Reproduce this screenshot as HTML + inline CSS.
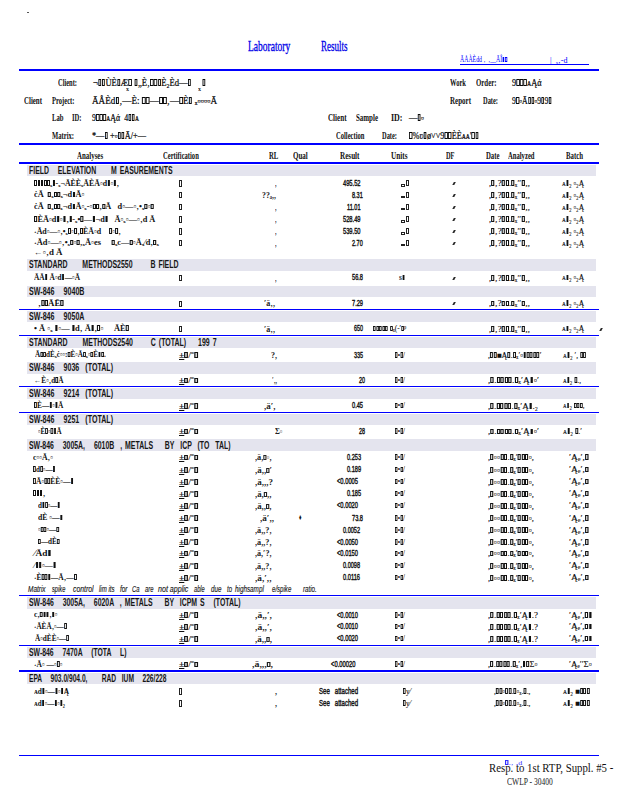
<!DOCTYPE html>
<html lang="en"><head><meta charset="utf-8"><title>Laboratory Results</title>
<style>
html,body{margin:0;padding:0;background:#fff}
body{width:618px;height:800px;position:relative;overflow:hidden;font-family:"Liberation Serif",serif;color:#111}
.r{position:absolute}
.o{box-sizing:border-box;border:.8px solid #222}
.k{width:1.6px;height:3.2px;background:#2a2a2a;transform:skewX(-28deg)}
.t{position:absolute;white-space:pre;line-height:12px;height:12px;transform-origin:0 0;display:block}
.t i{display:inline-block;box-sizing:border-box;width:.36em;height:.7em;border:.075em solid currentColor;border-left-width:.09em;border-right-width:.09em;margin:0 .04em;vertical-align:baseline}
.sm i{width:.34em;height:.68em;border-width:.06em;border-left-width:.065em;border-right-width:.065em}
.an i{width:.33em;height:.72em;border-width:.065em;border-left-width:.07em;border-right-width:.07em}
.rl i{width:.3em;height:.62em}
.t b{display:inline-block;box-sizing:border-box;width:.36em;height:.3em;border:.07em solid currentColor;margin:0 .03em;vertical-align:-.12em}
.t u{font-weight:700;text-decoration:underline;text-underline-offset:.12em}
.title{font:400 14.4px/16px "Liberation Serif",serif;color:#0000e8;-webkit-text-stroke:.3px #0000e8;line-height:16px;height:16px}
.lnk{font:400 7.5px/12px "Liberation Serif",serif;color:#0000ff}
.lnk2{font:400 7px/12px "Liberation Serif",serif;color:#3030ff}
.hb{font:700 9.5px/12px "Liberation Serif",serif;color:#111}
.hv{font:400 9.5px/12px "Liberation Serif",serif;color:#0a0a0a;-webkit-text-stroke:.22px #0a0a0a}
.band{font:700 10px/12px "Liberation Sans",sans-serif;color:#161616;word-spacing:.15em}
.band2{font:400 10px/12px "Liberation Sans",sans-serif;color:#222;word-spacing:.15em;-webkit-text-stroke:.15px #222}
.an{font:700 7.9px/12px "Liberation Serif",serif;color:#111}
.sm{font:400 8.3px/12px "Liberation Serif",serif;color:#111;-webkit-text-stroke:.1px #111}
.ct{font:400 7.6px/12px "Liberation Serif",serif;color:#111;-webkit-text-stroke:.1px #111}
.ct i{width:.32em;height:.7em;border-width:.065em}
.rl{font:700 8px/12px "Liberation Serif",serif;color:#222}
.num{font:400 8.5px/12px "Liberation Sans",sans-serif;color:#111;-webkit-text-stroke:.4px #111}
.tick{font:italic 700 7.5px/12px "Liberation Serif",serif;color:#111}
.tiny{font:700 5.5px/12px "Liberation Serif",serif;color:#222}
.note{font:italic 400 8.2px/12px "Liberation Sans",sans-serif;color:#1a1a1a;-webkit-text-stroke:.15px #1a1a1a}
.ft{font:400 12px/14px "Liberation Serif",serif;color:#111;line-height:14px;height:14px}
.ft2{font:400 9.5px/12px "Liberation Serif",serif;color:#222}
</style></head><body>
<div class="r" style="left:19px;top:69px;width:580px;height:2px;background:#0000ff"></div>
<div class="r" style="left:19px;top:143px;width:580px;height:2px;background:#0000ff"></div>
<div class="r" style="left:19px;top:162px;width:580px;height:2px;background:#0000ff"></div>
<div class="r" style="left:19px;top:754.5px;width:580px;height:1.6px;background:#0000ff"></div>
<div class="r" style="left:27px;top:12px;width:2.2px;height:1.2px;background:#555"></div>
<div class="r" style="left:460px;top:63.6px;width:129px;height:0.9px;background:#0000ff"></div>
<div class="r" style="left:27px;top:164.5px;width:569px;height:11.5px;background:#e4e4ee"></div>
<div class="r" style="left:27px;top:259px;width:569px;height:11.5px;background:#e4e4ee"></div>
<div class="r" style="left:27px;top:285.5px;width:569px;height:11px;background:#e4e4ee"></div>
<div class="r" style="left:19px;top:308.9px;width:580px;height:1.25px;background:#0000ff"></div>
<div class="r" style="left:27px;top:311px;width:569px;height:11px;background:#e4e4ee"></div>
<div class="r" style="left:19px;top:334.85px;width:580px;height:1.25px;background:#0000ff"></div>
<div class="r" style="left:27px;top:337px;width:569px;height:11px;background:#e4e4ee"></div>
<div class="r" style="left:27px;top:362px;width:569px;height:11.7px;background:#e4e4ee"></div>
<div class="r" style="left:19px;top:385.85px;width:580px;height:1.25px;background:#0000ff"></div>
<div class="r" style="left:27px;top:387.7px;width:569px;height:11px;background:#e4e4ee"></div>
<div class="r" style="left:19px;top:411.85px;width:580px;height:1.25px;background:#0000ff"></div>
<div class="r" style="left:27px;top:414px;width:569px;height:11px;background:#e4e4ee"></div>
<div class="r" style="left:27px;top:439.2px;width:569px;height:11.5px;background:#e4e4ee"></div>
<div class="r" style="left:19px;top:594.85px;width:580px;height:1.25px;background:#0000ff"></div>
<div class="r" style="left:27px;top:597px;width:569px;height:11.5px;background:#e4e4ee"></div>
<div class="r" style="left:19px;top:644.85px;width:580px;height:1.25px;background:#0000ff"></div>
<div class="r" style="left:27px;top:646.6px;width:569px;height:11px;background:#e4e4ee"></div>
<div class="r" style="left:19px;top:670.35px;width:580px;height:1.25px;background:#0000ff"></div>
<div class="r" style="left:27px;top:672.6px;width:569px;height:11.2px;background:#e4e4ee"></div>
<div class="r o" style="left:179px;top:180.4px;width:3px;height:6.2px;border-width:0.8px"></div>
<div class="r o" style="left:400.8px;top:184px;width:4.2px;height:2.6px;border-width:0.7px"></div>
<div class="r o" style="left:405.8px;top:179.9px;width:2.9px;height:6.2px;border-width:0.8px"></div>
<div class="r o" style="left:179px;top:192px;width:3px;height:6.2px;border-width:0.8px"></div>
<div class="r o" style="left:400.8px;top:195.6px;width:4.2px;height:2.6px;border-width:0.7px"></div>
<div class="r o" style="left:405.8px;top:191.5px;width:2.9px;height:6.2px;border-width:0.8px"></div>
<div class="r o" style="left:179px;top:204.2px;width:3px;height:6.2px;border-width:0.8px"></div>
<div class="r o" style="left:400.8px;top:207.8px;width:4.2px;height:2.6px;border-width:0.7px"></div>
<div class="r o" style="left:405.8px;top:203.7px;width:2.9px;height:6.2px;border-width:0.8px"></div>
<div class="r o" style="left:179px;top:216.4px;width:3px;height:6.2px;border-width:0.8px"></div>
<div class="r o" style="left:400.8px;top:220px;width:4.2px;height:2.6px;border-width:0.7px"></div>
<div class="r o" style="left:405.8px;top:215.9px;width:2.9px;height:6.2px;border-width:0.8px"></div>
<div class="r o" style="left:179px;top:228.4px;width:3px;height:6.2px;border-width:0.8px"></div>
<div class="r o" style="left:400.8px;top:232px;width:4.2px;height:2.6px;border-width:0.7px"></div>
<div class="r o" style="left:405.8px;top:227.9px;width:2.9px;height:6.2px;border-width:0.8px"></div>
<div class="r o" style="left:179px;top:240.2px;width:3px;height:6.2px;border-width:0.8px"></div>
<div class="r o" style="left:400.8px;top:243.8px;width:4.2px;height:2.6px;border-width:0.7px"></div>
<div class="r o" style="left:405.8px;top:239.7px;width:2.9px;height:6.2px;border-width:0.8px"></div>
<div class="r o" style="left:179px;top:274.9px;width:3px;height:6.2px;border-width:0.8px"></div>
<div class="r o" style="left:179px;top:300.6px;width:3px;height:6.2px;border-width:0.8px"></div>
<div class="r o" style="left:179px;top:325.9px;width:3px;height:6.2px;border-width:0.8px"></div>
<div class="r o" style="left:179px;top:688.4px;width:3px;height:6.2px;border-width:0.8px"></div>
<div class="r o" style="left:179px;top:700.4px;width:3px;height:6.2px;border-width:0.8px"></div>
<div class="r k" style="left:452.9px;top:182px"></div>
<div class="r k" style="left:452.9px;top:193.6px"></div>
<div class="r k" style="left:452.9px;top:205.8px"></div>
<div class="r k" style="left:452.9px;top:218px"></div>
<div class="r k" style="left:452.9px;top:230px"></div>
<div class="r k" style="left:452.9px;top:241.8px"></div>
<div class="r k" style="left:452.9px;top:276.5px"></div>
<div class="r k" style="left:452.9px;top:302.2px"></div>
<div class="r k" style="left:600px;top:328px"></div>
<div class="t title" style="left:247.8px;top:38.2px;transform:scaleX(0.6616)">Laboratory</div>
<div class="t title" style="left:321.2px;top:38.2px;transform:scaleX(0.6275)">Results</div>
<div class="t lnk" style="left:460px;top:54px;transform:scaleX(0.7751)">ĀÅÀÈdd ‚  ‚__ĀÎ<i></i><i></i></div>
<div class="t lnk" style="left:549.5px;top:54.5px;transform:scaleX(1.0821)">|  ₓ‚-d</div>
<div class="t hb" style="left:57.5px;top:76.5px;transform:scaleX(0.6793)">Client:</div>
<div class="t hb" style="left:23.5px;top:95px;transform:scaleX(0.7254)">Client</div>
<div class="t hb" style="left:52px;top:95px;transform:scaleX(0.6916)">Project:</div>
<div class="t hb" style="left:52px;top:112px;transform:scaleX(0.7023)">Lab</div>
<div class="t hb" style="left:72px;top:112px;transform:scaleX(0.6917)">ID:</div>
<div class="t hb" style="left:52px;top:129.5px;transform:scaleX(0.6950)">Matrix:</div>
<div class="t hv" style="left:92.5px;top:76.5px;transform:scaleX(0.9052)">¬<i></i><i></i>ÙÈ<i></i>Æ<i></i> <i></i>„È‚<i></i><i></i><i></i>È₂Èd—<i></i>     <i></i></div>
<div class="t hv" style="left:92px;top:95px;transform:scaleX(0.9592)">ĀÅÈd<i></i>‚—È: <i></i><i></i>—<i></i><i></i>‚—<i></i>È<i></i> ₓ▫▫▫▫Ā</div>
<div class="t hv" style="left:92px;top:111.5px;transform:scaleX(0.8328)">9<i></i><i></i><i></i>ᴀĄά  4<i></i><i></i>ᴀ</div>
<div class="t hv" style="left:92px;top:129.5px;transform:scaleX(0.8683)">*—<i></i> +▫<i></i><i></i>Ā/+—</div>
<div class="t hb" style="left:449.5px;top:76.5px;transform:scaleX(0.6886)">Work</div>
<div class="t hb" style="left:476px;top:76.5px;transform:scaleX(0.7193)">Order:</div>
<div class="t hb" style="left:449.5px;top:95px;transform:scaleX(0.7368)">Report</div>
<div class="t hb" style="left:483px;top:95px;transform:scaleX(0.6770)">Date:</div>
<div class="t hv" style="left:512px;top:76.5px;transform:scaleX(0.8717)">9<i></i><i></i><i></i>ᴀĄά</div>
<div class="t hv" style="left:512px;top:95px;transform:scaleX(0.8184)">9<i></i>▫Ā<i></i><i></i>▫9<i></i>9<i></i></div>
<div class="t hb" style="left:328px;top:112px;transform:scaleX(0.7456)">Client</div>
<div class="t hb" style="left:356px;top:112px;transform:scaleX(0.7310)">Sample</div>
<div class="t hb" style="left:390.5px;top:112px;transform:scaleX(0.8373)">ID:</div>
<div class="t hb" style="left:335.5px;top:129.5px;transform:scaleX(0.6922)">Collection</div>
<div class="t hb" style="left:381.5px;top:129.5px;transform:scaleX(0.6770)">Date:</div>
<div class="t hv" style="left:409px;top:112px;transform:scaleX(0.8807)">—<i></i>▫</div>
<div class="t hv" style="left:409px;top:129.5px;transform:scaleX(0.8661)"><i></i>%ʋ<i></i>ø˅˅9<i></i><i></i>ÈÈᴀᴀ'<i></i><i></i></div>
<div class="t tiny" style="left:126.3px;top:82.9px;transform:scaleX(1.0909)">x</div>
<div class="t tiny" style="left:197.5px;top:82.9px;transform:scaleX(1.0909)">x</div>
<div class="t hb" style="left:76.8px;top:149.5px;transform:scaleX(0.7269)">Analyses</div>
<div class="t hb" style="left:163px;top:149.5px;transform:scaleX(0.6924)">Certification</div>
<div class="t hb" style="left:269px;top:149.5px;transform:scaleX(0.7044)">RL</div>
<div class="t hb" style="left:292.6px;top:149.5px;transform:scaleX(0.7377)">Qual</div>
<div class="t hb" style="left:339.5px;top:149.5px;transform:scaleX(0.7536)">Result</div>
<div class="t hb" style="left:390.5px;top:149.5px;transform:scaleX(0.7619)">Units</div>
<div class="t hb" style="left:446px;top:149.5px;transform:scaleX(0.6708)">DF</div>
<div class="t hb" style="left:486px;top:149.5px;transform:scaleX(0.7105)">Date</div>
<div class="t hb" style="left:508px;top:149.5px;transform:scaleX(0.6974)">Analyzed</div>
<div class="t hb" style="left:566px;top:149.5px;transform:scaleX(0.7158)">Batch</div>
<div class="t band" style="left:28.5px;top:164.85px;transform:scaleX(0.6894)">FIELD   ELEVATION     M EASUREMENTS</div>
<div class="t an" style="left:34px;top:177.6px;transform:scaleX(0.9985)"><i></i><i></i><i></i><i></i><i></i>ₓ<i></i>-ₓ¬ĀÈÈₓĀÈĀ▫d<i></i>▫<i></i>‚</div>
<div class="t rl" style="left:274.5px;top:178.1px;transform:scaleX(0.7500)">,</div>
<div class="t num" style="left:342.5px;top:176.9px;transform:scaleX(0.6731)">495.52</div>
<div class="t sm" style="left:489px;top:178.1px;transform:scaleX(1.0555)">,<i></i>‚?<i></i><i></i>.<i></i>ₓ′′<i></i>‚,</div>
<div class="t sm" style="left:562px;top:177.9px;transform:scaleX(0.9084)">ᴀ<i></i>₂ ▫₂Ą</div>
<div class="t an" style="left:34px;top:189.2px;transform:scaleX(1.0531)">ċĀ  <i></i>ₓ<i></i><i></i>ₓ¬d<i></i>Ā▫</div>
<div class="t rl" style="left:262px;top:189.7px;transform:scaleX(0.9760)">??ₐ,,</div>
<div class="t num" style="left:351.8px;top:188.5px;transform:scaleX(0.6466)">8.31</div>
<div class="t sm" style="left:489px;top:189.7px;transform:scaleX(1.0555)">,<i></i>‚?<i></i><i></i>.<i></i>ₓ′′<i></i>‚,</div>
<div class="t sm" style="left:562px;top:189.5px;transform:scaleX(0.9084)">ᴀ<i></i>₂ ▫₂Ą</div>
<div class="t an" style="left:34px;top:201.4px;transform:scaleX(1.0503)">ċĀ  <i></i>ₓ<i></i><i></i>ₓ¬d<i></i>Ā▫ₓ-▫<i></i><i></i>‚<i></i>Ā   d▫—▫‚•ₓ<i></i>▫<i></i></div>
<div class="t rl" style="left:274.5px;top:201.9px;transform:scaleX(0.7500)">,</div>
<div class="t num" style="left:347px;top:200.7px;transform:scaleX(0.6540)">11.01</div>
<div class="t sm" style="left:489px;top:201.9px;transform:scaleX(1.0555)">,<i></i>‚?<i></i><i></i>.<i></i>ₓ′′<i></i>‚,</div>
<div class="t sm" style="left:562px;top:201.7px;transform:scaleX(0.9084)">ᴀ<i></i>₂ ▫₂Ą</div>
<div class="t an" style="left:34px;top:213.6px;transform:scaleX(1.0512)"><i></i>ÈĀ▫d<i></i>▫<i></i>‚<i></i>-ₓ•<i></i>—<i></i>¬d<i></i>   Ā▫ₓ▫—▫‚d Ā</div>
<div class="t rl" style="left:274.5px;top:214.1px;transform:scaleX(0.7500)">,</div>
<div class="t num" style="left:342.5px;top:212.9px;transform:scaleX(0.6731)">528.49</div>
<div class="t sm" style="left:489px;top:214.1px;transform:scaleX(1.0555)">,<i></i>‚?<i></i><i></i>.<i></i>ₓ′′<i></i>‚,</div>
<div class="t sm" style="left:562px;top:213.9px;transform:scaleX(0.9084)">ᴀ<i></i>₂ ▫₂Ą</div>
<div class="t an" style="left:34px;top:225.6px;transform:scaleX(1.0011)">˖Ād▫—▫‚•ₓ<i></i>▫<i></i>‚<i></i>ÈĀ▫d    <i></i>▫<i></i>‚</div>
<div class="t rl" style="left:274.5px;top:226.1px;transform:scaleX(0.7500)">,</div>
<div class="t num" style="left:342.5px;top:224.9px;transform:scaleX(0.6731)">539.50</div>
<div class="t sm" style="left:489px;top:226.1px;transform:scaleX(1.0555)">,<i></i>‚?<i></i><i></i>.<i></i>ₓ′′<i></i>‚,</div>
<div class="t sm" style="left:562px;top:225.9px;transform:scaleX(0.9084)">ᴀ<i></i>₂ ▫₂Ą</div>
<div class="t an" style="left:34px;top:237.4px;transform:scaleX(1.0628)">˖Ād▫—▫‚•ₓ<i></i>▫<i></i>‚ₓĀ▫es     <i></i>ₓc—<i></i>▫Āₓ⁄d‚<i></i>ₓ</div>
<div class="t rl" style="left:274.5px;top:237.9px;transform:scaleX(0.7500)">,</div>
<div class="t num" style="left:351.8px;top:236.7px;transform:scaleX(0.6466)">2.70</div>
<div class="t sm" style="left:489px;top:237.9px;transform:scaleX(1.0555)">,<i></i>‚?<i></i><i></i>.<i></i>ₓ′′<i></i>‚,</div>
<div class="t sm" style="left:562px;top:237.7px;transform:scaleX(0.9084)">ᴀ<i></i>₂ ▫₂Ą</div>
<div class="t an" style="left:34px;top:247.1px;transform:scaleX(1.1232)">←▫‚d Ā</div>
<div class="t band" style="left:28.5px;top:259.35px;transform:scaleX(0.6951)">STANDARD     METHODS2550      B FIELD</div>
<div class="t an" style="left:34px;top:272.1px;transform:scaleX(0.9370)">ĀÄ<i></i> Ā▫d<i></i>—▫Ā</div>
<div class="t rl" style="left:274.5px;top:272.6px;transform:scaleX(0.7500)">,</div>
<div class="t num" style="left:352px;top:271.4px;transform:scaleX(0.6648)">56.8</div>
<div class="t sm" style="left:399px;top:272.4px;transform:scaleX(0.9098)">s<i></i></div>
<div class="t sm" style="left:489px;top:272.6px;transform:scaleX(1.0555)">,<i></i>‚?<i></i><i></i>.<i></i>ₓ′′<i></i>‚,</div>
<div class="t sm" style="left:562px;top:272.4px;transform:scaleX(0.9084)">ᴀ<i></i>₂ ▫₂Ą</div>
<div class="t band" style="left:28.5px;top:285.6px;transform:scaleX(0.7094)">SW-846   9040B</div>
<div class="t an" style="left:38px;top:297.8px;transform:scaleX(1.1110)">‚<i></i><i></i>ĀĒ<i></i></div>
<div class="t rl" style="left:264px;top:298.3px;transform:scaleX(1.0072)">′ä‚,</div>
<div class="t num" style="left:352px;top:297.1px;transform:scaleX(0.6648)">7.29</div>
<div class="t sm" style="left:489px;top:298.3px;transform:scaleX(1.0555)">,<i></i>‚?<i></i><i></i>.<i></i>ₓ′′<i></i>‚,</div>
<div class="t sm" style="left:562px;top:298.1px;transform:scaleX(0.9084)">ᴀ<i></i>₂ ▫₂Ą</div>
<div class="t band" style="left:28.5px;top:311.1px;transform:scaleX(0.7094)">SW-846   9050A</div>
<div class="t an" style="left:34.3px;top:323.1px;transform:scaleX(1.0659)">• Ā ▫ₓ <i></i>▫— <i></i>d‚ Ā<i></i>‚<i></i>▫     ĀÈ<i></i></div>
<div class="t rl" style="left:264px;top:323.6px;transform:scaleX(1.0072)">′ä‚,</div>
<div class="t num" style="left:354px;top:322.4px;transform:scaleX(0.6344)">650</div>
<div class="t sm" style="left:372.5px;top:323.4px;transform:scaleX(0.8599)"><i></i><i></i><i></i><i></i><i></i> <i></i>ₓ(-′<i></i>ᵖ</div>
<div class="t sm" style="left:489px;top:323.6px;transform:scaleX(1.0555)">,<i></i>‚?<i></i><i></i>.<i></i>ₓ′′<i></i>‚,</div>
<div class="t sm" style="left:562px;top:323.4px;transform:scaleX(0.9084)">ᴀ<i></i>₂ ▫₂Ą</div>
<div class="t band" style="left:28.5px;top:337.1px;transform:scaleX(0.6974)">STANDARD     METHODS2540      C (TOTAL)    199 7</div>
<div class="t an" style="left:35px;top:349.3px;transform:scaleX(0.9082)">Ā<i></i><i></i>dÈₓċ▫▫:<i></i>È▫Ā<i></i>ₓ▫<i></i>È<i></i><i></i>.</div>
<div class="t ct" style="left:179px;top:349.8px;transform:scaleX(1.2718)"><u>±</u><i></i>/˭<i></i></div>
<div class="t rl" style="left:271px;top:349.8px;transform:scaleX(1.0000)">?,</div>
<div class="t num" style="left:354px;top:348.6px;transform:scaleX(0.6344)">335</div>
<div class="t sm" style="left:394.5px;top:349.6px;transform:scaleX(0.8032)"><i></i>•<i></i>/</div>
<div class="t sm" style="left:488px;top:349.8px;transform:scaleX(0.9659)">,<i></i><i></i>■Ą<i></i>.<i></i>ₓ′▫<i></i><i></i><i></i><i></i><i></i>′</div>
<div class="t sm" style="left:562.5px;top:349.6px;transform:scaleX(0.9132)">ᴀ<i></i>₂ ′, <i></i><i></i></div>
<div class="t band" style="left:28.5px;top:362.45px;transform:scaleX(0.7081)">SW-846   9036  (TOTAL)</div>
<div class="t an" style="left:34.3px;top:374.6px;transform:scaleX(0.9282)">←È▫‚d<i></i>Ā</div>
<div class="t ct" style="left:179px;top:375.1px;transform:scaleX(1.2718)"><u>±</u><i></i>/˭<i></i></div>
<div class="t rl" style="left:271.5px;top:375.1px;transform:scaleX(0.7223)">′‚,</div>
<div class="t num" style="left:359px;top:373.9px;transform:scaleX(0.6337)">20</div>
<div class="t sm" style="left:394.5px;top:374.9px;transform:scaleX(0.8032)"><i></i>•<i></i>/</div>
<div class="t sm" style="left:488px;top:375.1px;transform:scaleX(1.1209)">,<i></i>.<i></i><i></i><i></i><i></i>.<i></i>ₓ′Ą<i></i>▫′</div>
<div class="t sm" style="left:562.5px;top:374.9px;transform:scaleX(0.8896)">ᴀ<i></i>₂ <i></i>.,</div>
<div class="t band" style="left:28.5px;top:387.8px;transform:scaleX(0.7081)">SW-846   9214  (TOTAL)</div>
<div class="t an" style="left:33.5px;top:400.1px;transform:scaleX(0.9350)"><i></i>È—<i></i>▫<i></i>Ā</div>
<div class="t ct" style="left:179px;top:400.6px;transform:scaleX(1.2718)"><u>±</u><i></i>/˭<i></i></div>
<div class="t rl" style="left:263.5px;top:400.6px;transform:scaleX(1.1220)">,ä′,</div>
<div class="t num" style="left:352px;top:399.4px;transform:scaleX(0.6648)">0.45</div>
<div class="t sm" style="left:394.5px;top:400.4px;transform:scaleX(0.8032)"><i></i>•<i></i>/</div>
<div class="t sm" style="left:488px;top:400.6px;transform:scaleX(1.0940)">,<i></i>.<i></i><i></i><i></i><i></i>.<i></i>ₓ′Ą<i></i>.₂</div>
<div class="t sm" style="left:562.5px;top:400.4px;transform:scaleX(0.8568)">ᴀ<i></i>₂ <i></i><i></i><i></i>,</div>
<div class="t band" style="left:28.5px;top:414.1px;transform:scaleX(0.7081)">SW-846   9251  (TOTAL)</div>
<div class="t an" style="left:37.5px;top:425.8px;transform:scaleX(0.8958)">▫È<i></i>▫<i></i><i></i>Ā</div>
<div class="t ct" style="left:179px;top:426.3px;transform:scaleX(1.2718)"><u>±</u><i></i>/˭<i></i></div>
<div class="t rl" style="left:275px;top:426.3px;transform:scaleX(0.9284)">Σ▫</div>
<div class="t num" style="left:359px;top:425.1px;transform:scaleX(0.6337)">28</div>
<div class="t sm" style="left:394.5px;top:426.1px;transform:scaleX(0.8032)"><i></i>•<i></i>/</div>
<div class="t sm" style="left:488px;top:426.3px;transform:scaleX(1.1209)">,<i></i>.<i></i><i></i><i></i><i></i>.<i></i>ₓ′Ą<i></i>▫′</div>
<div class="t sm" style="left:562.5px;top:426.1px;transform:scaleX(0.9515)">ᴀ<i></i>₂ <i></i>.′</div>
<div class="t band" style="left:28.5px;top:439.55px;transform:scaleX(0.6916)">SW-846   3005A,   6010B  , METALS    BY  ICP  (TO  TAL)</div>
<div class="t an" style="left:33px;top:451.6px;transform:scaleX(0.9884)">c▫▫Ā‚▫</div>
<div class="t ct" style="left:179px;top:452.1px;transform:scaleX(1.2718)"><u>±</u><i></i>/˭<i></i></div>
<div class="t rl" style="left:255px;top:452.1px;transform:scaleX(1.0404)">,ä,<i></i>▫,</div>
<div class="t num" style="left:347px;top:450.9px;transform:scaleX(0.6579)">0.253</div>
<div class="t sm" style="left:394.5px;top:451.9px;transform:scaleX(0.8032)"><i></i>•<i></i>/</div>
<div class="t sm" style="left:488px;top:452.1px;transform:scaleX(1.0556)">,<i></i>▫▫<i></i><i></i>.<i></i>ₓ′<i></i><i></i><i></i>▫,</div>
<div class="t sm" style="left:568.5px;top:451.9px;transform:scaleX(1.1492)">′Ąₑ′,<i></i></div>
<div class="t an" style="left:33px;top:464.1px;transform:scaleX(0.9119)"><i></i>d<i></i>▫—<i></i></div>
<div class="t ct" style="left:179px;top:464.6px;transform:scaleX(1.2718)"><u>±</u><i></i>/˭<i></i></div>
<div class="t rl" style="left:255px;top:464.6px;transform:scaleX(1.1136)">,ä,,<i></i>′</div>
<div class="t num" style="left:347px;top:463.4px;transform:scaleX(0.6579)">0.189</div>
<div class="t sm" style="left:394.5px;top:464.4px;transform:scaleX(0.8032)"><i></i>•<i></i>/</div>
<div class="t sm" style="left:488px;top:464.6px;transform:scaleX(1.0556)">,<i></i>▫▫<i></i><i></i>.<i></i>ₓ′<i></i><i></i><i></i>▫,</div>
<div class="t sm" style="left:568.5px;top:464.4px;transform:scaleX(1.1492)">′Ąₑ′,<i></i></div>
<div class="t an" style="left:33px;top:476.1px;transform:scaleX(0.9531)"><i></i>Ā▫<i></i><i></i>ÈÈ▫—<i></i></div>
<div class="t ct" style="left:179px;top:476.6px;transform:scaleX(1.2718)"><u>±</u><i></i>/˭<i></i></div>
<div class="t rl" style="left:255px;top:476.6px;transform:scaleX(1.1250)">,ä,,,?</div>
<div class="t num" style="left:336.5px;top:475.4px;transform:scaleX(0.6781)">&lt;0.0005</div>
<div class="t sm" style="left:394.5px;top:476.4px;transform:scaleX(0.8032)"><i></i>•<i></i>/</div>
<div class="t sm" style="left:488px;top:476.6px;transform:scaleX(1.0556)">,<i></i>▫▫<i></i><i></i>.<i></i>ₓ′<i></i><i></i><i></i>▫,</div>
<div class="t sm" style="left:568.5px;top:476.4px;transform:scaleX(1.1492)">′Ąₑ′,<i></i></div>
<div class="t an" style="left:33px;top:488.1px;transform:scaleX(1.0013)"><i></i><i></i><i></i>‚</div>
<div class="t ct" style="left:179px;top:488.6px;transform:scaleX(1.2718)"><u>±</u><i></i>/˭<i></i></div>
<div class="t rl" style="left:255px;top:488.6px;transform:scaleX(1.0989)">,ä,<i></i>,,</div>
<div class="t num" style="left:347px;top:487.4px;transform:scaleX(0.6579)">0.185</div>
<div class="t sm" style="left:394.5px;top:488.4px;transform:scaleX(0.8032)"><i></i>•<i></i>/</div>
<div class="t sm" style="left:488px;top:488.6px;transform:scaleX(1.0556)">,<i></i>▫▫<i></i><i></i>.<i></i>ₓ′<i></i><i></i><i></i>▫,</div>
<div class="t sm" style="left:568.5px;top:488.4px;transform:scaleX(1.1492)">′Ąₑ′,<i></i></div>
<div class="t an" style="left:38px;top:500.1px;transform:scaleX(0.9003)">d<i></i><i></i>▫—<i></i></div>
<div class="t ct" style="left:179px;top:500.6px;transform:scaleX(1.2718)"><u>±</u><i></i>/˭<i></i></div>
<div class="t rl" style="left:255px;top:500.6px;transform:scaleX(1.0989)">,ä,,<i></i>,</div>
<div class="t num" style="left:336.5px;top:499.4px;transform:scaleX(0.6781)">&lt;0.0020</div>
<div class="t sm" style="left:394.5px;top:500.4px;transform:scaleX(0.8032)"><i></i>•<i></i>/</div>
<div class="t sm" style="left:488px;top:500.6px;transform:scaleX(1.0556)">,<i></i>▫▫<i></i><i></i>.<i></i>ₓ′<i></i><i></i><i></i>▫,</div>
<div class="t sm" style="left:568.5px;top:500.4px;transform:scaleX(1.1492)">′Ąₑ′,<i></i></div>
<div class="t an" style="left:38px;top:512.3px;transform:scaleX(0.9715)">dÈ ▫—<i></i></div>
<div class="t ct" style="left:179px;top:512.8px;transform:scaleX(1.2718)"><u>±</u><i></i>/˭<i></i></div>
<div class="t rl" style="left:260px;top:512.8px;transform:scaleX(1.1429)">,ä′,,</div>
<div class="t sm" style="left:299.3px;top:512.3px;transform:scaleX(0.5904)">♦</div>
<div class="t num" style="left:352px;top:511.6px;transform:scaleX(0.6648)">73.8</div>
<div class="t sm" style="left:394.5px;top:512.6px;transform:scaleX(0.8032)"><i></i>•<i></i>/</div>
<div class="t sm" style="left:488px;top:512.8px;transform:scaleX(1.0556)">,<i></i>▫▫<i></i><i></i>.<i></i>ₓ′<i></i><i></i><i></i>▫,</div>
<div class="t sm" style="left:568.5px;top:512.6px;transform:scaleX(1.1492)">′Ąₑ′,<i></i></div>
<div class="t an" style="left:38px;top:524.2px;transform:scaleX(0.9187)">▫<i></i><i></i>▫—<i></i></div>
<div class="t ct" style="left:179px;top:524.7px;transform:scaleX(1.2718)"><u>±</u><i></i>/˭<i></i></div>
<div class="t rl" style="left:255px;top:524.7px;transform:scaleX(1.0312)">,ä,,?,</div>
<div class="t num" style="left:343px;top:523.5px;transform:scaleX(0.6538)">0.0052</div>
<div class="t sm" style="left:394.5px;top:524.5px;transform:scaleX(0.8032)"><i></i>•<i></i>/</div>
<div class="t sm" style="left:488px;top:524.7px;transform:scaleX(1.0556)">,<i></i>▫▫<i></i><i></i>.<i></i>ₓ′<i></i><i></i><i></i>▫,</div>
<div class="t sm" style="left:568.5px;top:524.5px;transform:scaleX(1.1492)">′Ąₑ′,<i></i></div>
<div class="t an" style="left:38px;top:536.2px;transform:scaleX(0.8990)"><i></i>—dÈ<i></i></div>
<div class="t ct" style="left:179px;top:536.7px;transform:scaleX(1.2718)"><u>±</u><i></i>/˭<i></i></div>
<div class="t rl" style="left:255px;top:536.7px;transform:scaleX(1.0312)">,ä,,?,</div>
<div class="t num" style="left:336.5px;top:535.5px;transform:scaleX(0.6781)">&lt;0.0050</div>
<div class="t sm" style="left:394.5px;top:536.5px;transform:scaleX(0.8032)"><i></i>•<i></i>/</div>
<div class="t sm" style="left:488px;top:536.7px;transform:scaleX(1.0556)">,<i></i>▫▫<i></i><i></i>.<i></i>ₓ′<i></i><i></i><i></i>▫,</div>
<div class="t sm" style="left:568.5px;top:536.5px;transform:scaleX(1.1492)">′Ąₑ′,<i></i></div>
<div class="t an" style="left:34px;top:547.9px;transform:scaleX(1.1878)">⁄Ād<i></i></div>
<div class="t ct" style="left:179px;top:548.4px;transform:scaleX(1.2718)"><u>±</u><i></i>/˭<i></i></div>
<div class="t rl" style="left:255px;top:548.4px;transform:scaleX(1.0154)">,ä,′?,</div>
<div class="t num" style="left:336.5px;top:547.2px;transform:scaleX(0.6781)">&lt;0.0150</div>
<div class="t sm" style="left:394.5px;top:548.2px;transform:scaleX(0.8032)"><i></i>•<i></i>/</div>
<div class="t sm" style="left:488px;top:548.4px;transform:scaleX(1.0556)">,<i></i>▫▫<i></i><i></i>.<i></i>ₓ′<i></i><i></i><i></i>▫,</div>
<div class="t sm" style="left:568.5px;top:548.2px;transform:scaleX(1.1492)">′Ąₑ′,<i></i></div>
<div class="t an" style="left:34px;top:560.1px;transform:scaleX(1.0292)">⁄<i></i><i></i>▫—<i></i></div>
<div class="t ct" style="left:179px;top:560.6px;transform:scaleX(1.2718)"><u>±</u><i></i>/˭<i></i></div>
<div class="t rl" style="left:255px;top:560.6px;transform:scaleX(1.0312)">,ä,,?,</div>
<div class="t num" style="left:343px;top:559.4px;transform:scaleX(0.6538)">0.0098</div>
<div class="t sm" style="left:394.5px;top:560.4px;transform:scaleX(0.8032)"><i></i>•<i></i>/</div>
<div class="t sm" style="left:488px;top:560.6px;transform:scaleX(1.0556)">,<i></i>▫▫<i></i><i></i>.<i></i>ₓ′<i></i><i></i><i></i>▫,</div>
<div class="t sm" style="left:568.5px;top:560.4px;transform:scaleX(1.1492)">′Ąₑ′,<i></i></div>
<div class="t an" style="left:34px;top:572.1px;transform:scaleX(0.9537)">˖È<i></i><i></i><i></i>—Ā‚—<i></i></div>
<div class="t ct" style="left:179px;top:572.6px;transform:scaleX(1.2718)"><u>±</u><i></i>/˭<i></i></div>
<div class="t rl" style="left:255px;top:572.6px;transform:scaleX(1.1579)">,ä,′,,</div>
<div class="t num" style="left:343px;top:571.4px;transform:scaleX(0.6700)">0.0116</div>
<div class="t sm" style="left:394.5px;top:572.4px;transform:scaleX(0.8032)"><i></i>•<i></i>/</div>
<div class="t sm" style="left:488px;top:572.6px;transform:scaleX(1.0556)">,<i></i>▫▫<i></i><i></i>.<i></i>ₓ′<i></i><i></i><i></i>▫,</div>
<div class="t sm" style="left:568.5px;top:572.4px;transform:scaleX(1.1492)">′Ąₑ′,<i></i></div>
<div class="t note" style="left:27.5px;top:584px;transform:scaleX(0.7893)">Matrix</div>
<div class="t note" style="left:51.8px;top:584px;transform:scaleX(0.6954)">spike</div>
<div class="t note" style="left:72.7px;top:584px;transform:scaleX(0.8341)">control</div>
<div class="t note" style="left:99px;top:584px;transform:scaleX(0.7409)">lim its</div>
<div class="t note" style="left:120.3px;top:584px;transform:scaleX(0.7843)">for</div>
<div class="t note" style="left:132.4px;top:584px;transform:scaleX(0.7164)">Ca</div>
<div class="t note" style="left:144.9px;top:584px;transform:scaleX(0.7177)">are</div>
<div class="t note" style="left:158.4px;top:584px;transform:scaleX(0.8670)">not applic</div>
<div class="t note" style="left:193.8px;top:584px;transform:scaleX(0.6975)">able</div>
<div class="t note" style="left:210.9px;top:584px;transform:scaleX(0.7680)">due</div>
<div class="t note" style="left:227.2px;top:584px;transform:scaleX(0.7306)">to</div>
<div class="t note" style="left:235.2px;top:584px;transform:scaleX(0.7715)">highsampl</div>
<div class="t note" style="left:272.3px;top:584px;transform:scaleX(0.7436)">e/spike</div>
<div class="t note" style="left:302.9px;top:584px;transform:scaleX(0.7581)">ratio.</div>
<div class="t band" style="left:28.5px;top:597.35px;transform:scaleX(0.6908)">SW-846   3005A,   6020A  , METALS    BY  ICPM S   (TOTAL)</div>
<div class="t an" style="left:34px;top:609.3px;transform:scaleX(0.9604)">c‚<i></i><i></i><i></i>‚<i></i>▫</div>
<div class="t ct" style="left:179px;top:609.8px;transform:scaleX(1.2718)"><u>±</u><i></i>/˭<i></i></div>
<div class="t rl" style="left:255px;top:609.8px;transform:scaleX(1.1930)">,ä,,′,</div>
<div class="t num" style="left:336.5px;top:608.6px;transform:scaleX(0.6781)">&lt;0.0010</div>
<div class="t sm" style="left:394.5px;top:609.6px;transform:scaleX(0.8032)"><i></i>•<i></i>/</div>
<div class="t sm" style="left:488px;top:609.8px;transform:scaleX(1.0753)">,<i></i>.<i></i><i></i><i></i><i></i>.<i></i>ₓ′Ą<i></i>.?</div>
<div class="t sm" style="left:568.5px;top:609.6px;transform:scaleX(1.1254)">′Ąₑ′,<i></i><i></i></div>
<div class="t an" style="left:34px;top:621.1px;transform:scaleX(0.9151)">˖ĀÈĀ‚▫—<i></i></div>
<div class="t ct" style="left:179px;top:621.6px;transform:scaleX(1.2718)"><u>±</u><i></i>/˭<i></i></div>
<div class="t rl" style="left:255px;top:621.6px;transform:scaleX(1.1930)">,ä,,′,</div>
<div class="t num" style="left:336.5px;top:620.4px;transform:scaleX(0.6781)">&lt;0.0010</div>
<div class="t sm" style="left:394.5px;top:621.4px;transform:scaleX(0.8032)"><i></i>•<i></i>/</div>
<div class="t sm" style="left:488px;top:621.6px;transform:scaleX(1.0753)">,<i></i>.<i></i><i></i><i></i><i></i>.<i></i>ₓ′Ą<i></i>.?</div>
<div class="t sm" style="left:568.5px;top:621.4px;transform:scaleX(1.1254)">′Ąₑ′,<i></i><i></i></div>
<div class="t an" style="left:35px;top:633.1px;transform:scaleX(0.9185)">Ā▫dÈÈ▫—<i></i></div>
<div class="t ct" style="left:179px;top:633.6px;transform:scaleX(1.2718)"><u>±</u><i></i>/˭<i></i></div>
<div class="t rl" style="left:255px;top:633.6px;transform:scaleX(1.1322)">,ä,,<i></i>,</div>
<div class="t num" style="left:336.5px;top:632.4px;transform:scaleX(0.6781)">&lt;0.0020</div>
<div class="t sm" style="left:394.5px;top:633.4px;transform:scaleX(0.8032)"><i></i>•<i></i>/</div>
<div class="t sm" style="left:488px;top:633.6px;transform:scaleX(1.0753)">,<i></i>.<i></i><i></i><i></i><i></i>.<i></i>ₓ′Ą<i></i>.?</div>
<div class="t sm" style="left:568.5px;top:633.4px;transform:scaleX(1.1254)">′Ąₑ′,<i></i><i></i></div>
<div class="t band" style="left:28.5px;top:646.7px;transform:scaleX(0.6856)">SW-846   7470A   (TOTA   L)</div>
<div class="t an" style="left:34px;top:658.5px;transform:scaleX(0.9555)">˖Ā▫ —▫<i></i>▫</div>
<div class="t ct" style="left:179px;top:659px;transform:scaleX(1.2718)"><u>±</u><i></i>/˭<i></i></div>
<div class="t rl" style="left:251.5px;top:659px;transform:scaleX(1.2342)">,ä,,,<i></i>,</div>
<div class="t num" style="left:331px;top:657.8px;transform:scaleX(0.6862)">&lt;0.00020</div>
<div class="t sm" style="left:394.5px;top:658.8px;transform:scaleX(0.8032)"><i></i>•<i></i>/</div>
<div class="t sm" style="left:488px;top:659px;transform:scaleX(1.0299)">,<i></i>.<i></i><i></i><i></i><i></i>.<i></i>ₓ′,<i></i><i></i>Σ▫</div>
<div class="t sm" style="left:568.5px;top:658.8px;transform:scaleX(1.0776)">′Ąₑ′′Σ▫</div>
<div class="t band" style="left:28.5px;top:672.8px;transform:scaleX(0.6648)">EPA   903.0/904.0,     RAD  IUM   226/228</div>
<div class="t an" style="left:34px;top:685.6px;transform:scaleX(0.9368)">ᴀd<i></i>▫—<i></i>▫<i></i>Ą</div>
<div class="t rl" style="left:275px;top:686.1px;transform:scaleX(1.0000)">,</div>
<div class="t num" style="left:319px;top:684.9px;transform:scaleX(0.7113)">See   attached</div>
<div class="t sm" style="left:402.5px;top:685.9px;transform:scaleX(0.8633)"><i></i>y⁄</div>
<div class="t sm" style="left:494px;top:686.1px;transform:scaleX(0.9241)">,<i></i><i></i>▫<i></i><i></i>.<i></i>▫ₓ.<i></i>.,</div>
<div class="t sm" style="left:562.5px;top:685.9px;transform:scaleX(0.9566)">ᴀ<i></i>₂ ■<i></i><i></i><i></i></div>
<div class="t an" style="left:34px;top:697.6px;transform:scaleX(0.9109)">ᴀd<i></i>▫—<i></i>▫<i></i>₂</div>
<div class="t rl" style="left:275px;top:698.1px;transform:scaleX(1.0000)">,</div>
<div class="t num" style="left:319px;top:696.9px;transform:scaleX(0.7113)">See   attached</div>
<div class="t sm" style="left:402.5px;top:697.9px;transform:scaleX(0.8633)"><i></i>y⁄</div>
<div class="t sm" style="left:494px;top:698.1px;transform:scaleX(0.9241)">,<i></i><i></i>▫<i></i><i></i>.<i></i>▫ₓ.<i></i>.,</div>
<div class="t sm" style="left:562.5px;top:697.9px;transform:scaleX(0.9566)">ᴀ<i></i>₂ ■<i></i><i></i><i></i></div>
<div class="t ft" style="left:489px;top:760.5px;transform:scaleX(0.8987)">Resp. to 1st RTP, Suppl. #5 -</div>
<div class="t ft2" style="left:506.8px;top:775.6px;transform:scaleX(0.7937)">CWLP - 30400</div>
<div class="t lnk2" style="left:505px;top:756.5px;transform:scaleX(1.1538)"><i></i>ₓ‚ ‚d</div>
</body></html>
